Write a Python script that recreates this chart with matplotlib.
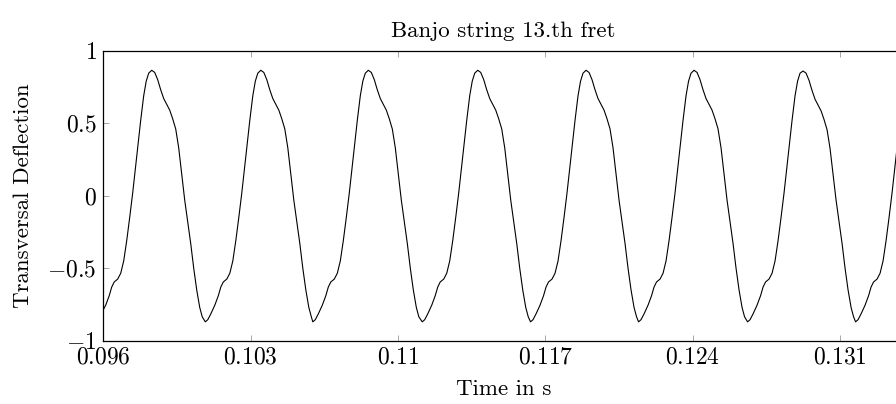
import numpy as np
import matplotlib
matplotlib.use("Agg")
import matplotlib.pyplot as plt

# deflection trace (time in ms)
time_ms = [
    96.000, 96.110, 96.276, 96.395, 96.514, 96.680, 96.823, 96.965, 97.108, 97.250,
    97.393, 97.583, 97.773, 97.916, 98.035, 98.153, 98.296, 98.439, 98.581, 98.724,
    98.866, 99.009, 99.152, 99.294, 99.437, 99.579, 99.722, 99.864, 100.007, 100.150,
    100.292, 100.435, 100.577, 100.696, 100.843,
    100.962, 101.105, 101.295, 101.461, 101.580, 101.699, 101.865, 102.008, 102.150, 102.293,
    102.435, 102.578, 102.768, 102.958, 103.101, 103.220, 103.338, 103.481, 103.624, 103.766,
    103.909, 104.051, 104.194, 104.337, 104.479, 104.622, 104.764, 104.907, 105.049, 105.192,
    105.335, 105.477, 105.620, 105.762, 105.881, 105.952,
    106.071, 106.214, 106.404, 106.570, 106.689, 106.808, 106.974, 107.117, 107.259, 107.402,
    107.544, 107.687, 107.877, 108.067, 108.210, 108.329, 108.447, 108.590, 108.733, 108.875,
    109.018, 109.160, 109.303, 109.446, 109.588, 109.731, 109.873, 110.016, 110.158, 110.301,
    110.444, 110.586, 110.729, 110.871, 110.990, 111.152,
    111.271, 111.414, 111.604, 111.770, 111.889, 112.008, 112.174, 112.317, 112.459, 112.602,
    112.744, 112.887, 113.077, 113.267, 113.410, 113.529, 113.647, 113.790, 113.933, 114.075,
    114.218, 114.360, 114.503, 114.646, 114.788, 114.931, 115.073, 115.216, 115.358, 115.501,
    115.644, 115.786, 115.929, 116.071, 116.190, 116.299,
    116.418, 116.561, 116.751, 116.917, 117.036, 117.155, 117.321, 117.464, 117.606, 117.749,
    117.891, 118.034, 118.224, 118.414, 118.557, 118.676, 118.794, 118.937, 119.080, 119.222,
    119.365, 119.507, 119.650, 119.793, 119.935, 120.078, 120.220, 120.363, 120.505, 120.648,
    120.791, 120.933, 121.076, 121.218, 121.337, 121.432,
    121.551, 121.694, 121.884, 122.050, 122.169, 122.288, 122.454, 122.597, 122.739, 122.882,
    123.024, 123.167, 123.357, 123.547, 123.690, 123.809, 123.927, 124.070, 124.213, 124.355,
    124.498, 124.640, 124.783, 124.926, 125.068, 125.211, 125.353, 125.496, 125.638, 125.781,
    125.924, 126.066, 126.209, 126.351, 126.470, 126.613,
    126.732, 126.875, 127.065, 127.231, 127.350, 127.469, 127.635, 127.778, 127.920, 128.063,
    128.205, 128.348, 128.538, 128.728, 128.871, 128.990, 129.108, 129.251, 129.394, 129.536,
    129.679, 129.821, 129.964, 130.107, 130.249, 130.392, 130.534, 130.677, 130.819, 130.962,
    131.105, 131.247, 131.390, 131.532, 131.651, 131.746,
    131.865, 132.008, 132.198, 132.364, 132.483, 132.602, 132.768, 132.911, 133.053, 133.196,
    133.338, 133.481, 133.671, 133.861, 134.004,
]

deflection = [
    -0.785, -0.755, -0.690, -0.630, -0.595, -0.575, -0.535, -0.450, -0.310, -0.150,
    0.020, 0.270, 0.520, 0.690, 0.790, 0.845, 0.865, 0.850, 0.800, 0.730,
    0.670, 0.630, 0.590, 0.530, 0.460, 0.330, 0.150, -0.030, -0.180, -0.330,
    -0.500, -0.650, -0.770, -0.835, -0.870,
    -0.855, -0.815, -0.755, -0.690, -0.630, -0.595, -0.575, -0.535, -0.450, -0.310,
    -0.150, 0.020, 0.270, 0.520, 0.690, 0.790, 0.845, 0.865, 0.850, 0.800,
    0.730, 0.670, 0.630, 0.590, 0.530, 0.460, 0.330, 0.150, -0.030, -0.180,
    -0.330, -0.500, -0.650, -0.770, -0.835, -0.870,
    -0.855, -0.815, -0.755, -0.690, -0.630, -0.595, -0.575, -0.535, -0.450, -0.310,
    -0.150, 0.020, 0.270, 0.520, 0.690, 0.790, 0.845, 0.865, 0.850, 0.800,
    0.730, 0.670, 0.630, 0.590, 0.530, 0.460, 0.330, 0.150, -0.030, -0.180,
    -0.330, -0.500, -0.650, -0.770, -0.835, -0.870,
    -0.855, -0.815, -0.755, -0.690, -0.630, -0.595, -0.575, -0.535, -0.450, -0.310,
    -0.150, 0.020, 0.270, 0.520, 0.690, 0.790, 0.845, 0.865, 0.850, 0.800,
    0.730, 0.670, 0.630, 0.590, 0.530, 0.460, 0.330, 0.150, -0.030, -0.180,
    -0.330, -0.500, -0.650, -0.770, -0.835, -0.870,
    -0.855, -0.815, -0.755, -0.690, -0.630, -0.595, -0.575, -0.535, -0.450, -0.310,
    -0.150, 0.020, 0.270, 0.520, 0.690, 0.790, 0.845, 0.865, 0.850, 0.800,
    0.730, 0.670, 0.630, 0.590, 0.530, 0.460, 0.330, 0.150, -0.030, -0.180,
    -0.330, -0.500, -0.650, -0.770, -0.835, -0.870,
    -0.855, -0.815, -0.755, -0.690, -0.630, -0.595, -0.575, -0.535, -0.450, -0.310,
    -0.150, 0.020, 0.270, 0.520, 0.690, 0.790, 0.845, 0.865, 0.850, 0.800,
    0.730, 0.670, 0.630, 0.590, 0.530, 0.460, 0.330, 0.150, -0.030, -0.180,
    -0.330, -0.500, -0.650, -0.770, -0.835, -0.870,
    -0.855, -0.815, -0.755, -0.690, -0.630, -0.595, -0.575, -0.535, -0.450, -0.310,
    -0.150, 0.020, 0.270, 0.520, 0.690, 0.790, 0.845, 0.860, 0.845, 0.795,
    0.725, 0.665, 0.625, 0.585, 0.525, 0.455, 0.325, 0.145, -0.030, -0.180,
    -0.330, -0.500, -0.650, -0.770, -0.835, -0.870,
    -0.855, -0.815, -0.755, -0.690, -0.630, -0.595, -0.575, -0.535, -0.450, -0.310,
    -0.150, 0.020, 0.270, 0.520, 0.650,
]

x_ticks = [0.096, 0.103, 0.110, 0.117, 0.124, 0.131]
x_tick_labels = ["0.096", "0.103", "0.11", "0.117", "0.124", "0.131"]
y_ticks = [-1, -0.5, 0, 0.5, 1]
y_tick_labels = ["$-1$", "$-0.5$", "$0$", "$0.5$", "$1$"]

plt.rcParams["font.family"] = "serif"
plt.rcParams["font.serif"] = ["cmr10"]
plt.rcParams["mathtext.fontset"] = "cm"
plt.rcParams["axes.unicode_minus"] = False

t = np.array(time_ms) / 1000.0

fig = plt.figure(figsize=(8.96, 4.04), dpi=100)
ax = fig.add_axes([0.1154, 0.1567, 0.8924, 0.7178])

ax.plot(t, deflection, color="black", linewidth=0.8)

ax.set_xlim(0.096, 0.134)
ax.set_ylim(-1, 1)
ax.set_xticks(x_ticks)
ax.set_xticklabels(["$" + s + "$" for s in x_tick_labels])
ax.set_yticks(y_ticks)
ax.set_yticklabels(y_tick_labels)

ax.tick_params(direction="in", length=4, width=0.4, color="#666666",
               top=True, right=True, labelsize=17)
ax.tick_params(axis="x", pad=4)
ax.tick_params(axis="y", pad=5)
for s in ax.spines.values():
    s.set_linewidth(0.9)

ax.set_title("Banjo string 13.th fret", fontsize=16.5, pad=10)
ax.set_xlabel("Time in s", fontsize=16.5, labelpad=8)
ax.set_ylabel("Transversal Deflection", fontsize=16.5, labelpad=10)

fig.savefig("out.png", dpi=100)
